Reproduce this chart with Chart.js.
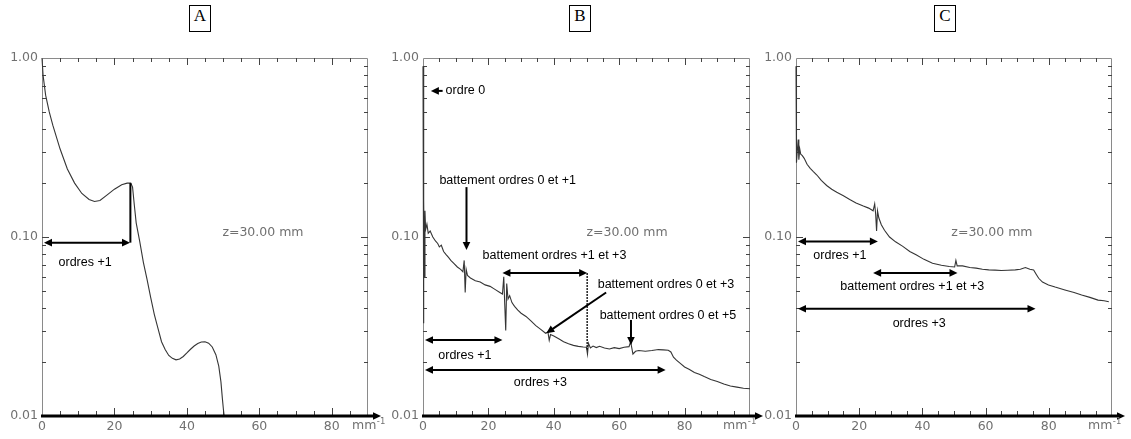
<!DOCTYPE html>
<html>
<head>
<meta charset="utf-8">
<title>Spectres z=30 mm</title>
<script src="https://cdn.jsdelivr.net/npm/chart.js@4.4.1/dist/chart.umd.min.js"></script>
<style>
    html, body { margin: 0; padding: 0; background: #fff; }
    body { position: relative; width: 1131px; height: 439px; overflow: hidden; }
    canvas { position: absolute; top: 0; }
    .tag {
        position: absolute; top: 5px; width: 20px; height: 25px;
        border: 1px solid #000; text-align: center; line-height: 26px;
        font: 17px "Liberation Serif", "Times New Roman", serif; color: #000;
    }
</style>
</head>
<body>
<div class="tag" style="left:189px">A</div>
<div class="tag" style="left:569px">B</div>
<div class="tag" style="left:934px">C</div>

<canvas id="chartA" width="385" height="439" style="left:0px"></canvas>
<canvas id="chartB" width="380" height="439" style="left:385px"></canvas>
<canvas id="chartC" width="373" height="439" style="left:758px"></canvas>

<script>
/* =========================
   DATA
========================== */
const xTickValues = [0, 20, 40, 60, 80];
const yTickValues = [0.01, 0.1, 1];
const depthLabel = "z=30.00 mm";

// panel A
const aFreq = [0, 0.3, 1, 2, 3, 5, 7, 9, 11, 13, 14.5, 16, 18, 20, 22, 23.5, 24.5, 25.0, 25.5, 26,
    27, 28, 29, 30, 31, 32, 33, 34, 35, 36, 37, 38, 39, 40, 41, 42, 43, 44, 45, 46, 47, 48,
    48.8, 49.4, 49.8, 50.1, 50.3];
const aAmp = [1.0, 0.8, 0.62, 0.5, 0.42, 0.31, 0.24, 0.2, 0.175, 0.162, 0.158, 0.16, 0.172, 0.185, 0.196, 0.2, 0.2, 0.19, 0.15, 0.12,
    0.094, 0.072, 0.058, 0.046, 0.037, 0.031, 0.026, 0.0235, 0.0218, 0.021, 0.0206, 0.0208, 0.0215, 0.0225, 0.0236, 0.0246, 0.0254, 0.0259, 0.026, 0.0255, 0.0243, 0.022,
    0.019, 0.0155, 0.0125, 0.0108, 0.0100];

// panel B
const bFreq = [0, 0.12, 0.2, 0.3, 0.45, 0.6, 0.8, 1.2, 1.6, 2.2, 3, 3.8, 4.5, 5, 5.6, 6.3, 7, 7.8, 8.5, 9.5,
    10.5, 11.5, 12.2, 12.6, 12.9, 13.2, 13.6, 14.5, 16, 17.5, 19, 20.5, 22, 23.5, 24.3, 24.7, 25.0, 25.3, 25.6, 26,
    26.5, 27.2, 28, 29, 30, 31.5, 33, 34.5, 36, 37.5, 38.2, 38.6, 39, 40, 41.5, 43, 44.5, 46, 47.5, 49,
    50, 50.3, 50.6, 51.2, 52, 53, 54, 55.5, 57, 58.5, 60, 61.5, 63, 63.5, 64.2, 65, 66, 68, 70, 72,
    73.5, 75, 75.8, 76.6, 77.5, 78.5, 80, 81.5, 83, 84.5, 86, 88, 90, 92, 94, 96, 98, 100];
const bAmp = [0.9, 0.5, 0.033, 0.16, 0.06, 0.14, 0.11, 0.118, 0.105, 0.108, 0.1, 0.095, 0.092, 0.088, 0.09, 0.083, 0.08, 0.077, 0.074, 0.071,
    0.068, 0.066, 0.064, 0.074, 0.049, 0.066, 0.061, 0.059, 0.057, 0.056, 0.054, 0.053, 0.051, 0.049, 0.048, 0.06, 0.042, 0.03, 0.055, 0.045,
    0.047, 0.043, 0.041, 0.039, 0.0375, 0.036, 0.034, 0.032, 0.0305, 0.029, 0.0295, 0.0265, 0.0285, 0.028, 0.027, 0.026, 0.0253, 0.0248, 0.0245, 0.0243,
    0.0242, 0.0222, 0.0255, 0.024, 0.0246, 0.0241, 0.0245, 0.024, 0.0237, 0.0241, 0.0238, 0.0242, 0.0244, 0.026, 0.0222, 0.023, 0.0232, 0.023, 0.0232, 0.0235,
    0.0234, 0.0233, 0.0228, 0.0213, 0.0205, 0.0198, 0.0188, 0.0182, 0.0175, 0.0171, 0.0166, 0.016, 0.0156, 0.0151, 0.0147, 0.0145, 0.0143, 0.0142];

// panel C
const cFreq = [0, 0.1, 0.2, 0.4, 0.7, 0.9, 1.2, 1.5, 2, 2.6, 3.5, 4.5, 5.5, 6.6, 8, 9.7, 11.3, 12.9, 15, 17,
    19, 21.3, 23, 24.4, 24.9, 25.2, 25.5, 25.8, 26.2, 27, 28, 29.6, 31.5, 33.8, 36, 38, 40.5, 43.2, 46, 48.5,
    50.2, 50.6, 51, 52.7, 55, 57, 59, 61, 63, 65, 67, 69.4, 71, 72.6, 74, 75.2, 76, 76.8, 78, 79.9,
    82, 85.1, 88, 90.4, 93, 95.6, 97.5, 99];
const cAmp = [0.9, 0.5, 0.26, 0.3, 0.35, 0.27, 0.31, 0.29, 0.285, 0.275, 0.255, 0.242, 0.232, 0.222, 0.207, 0.194, 0.185, 0.178, 0.17, 0.162,
    0.155, 0.149, 0.145, 0.14, 0.153, 0.135, 0.108, 0.14, 0.128, 0.117, 0.109, 0.1, 0.094, 0.0886, 0.083, 0.0795, 0.075, 0.0714, 0.0695, 0.0684,
    0.068, 0.074, 0.069, 0.069, 0.0675, 0.067, 0.066, 0.0655, 0.0653, 0.065, 0.0652, 0.0655, 0.066, 0.0675, 0.066, 0.0655, 0.062, 0.0588, 0.056, 0.054,
    0.0525, 0.0506, 0.049, 0.0474, 0.046, 0.0444, 0.044, 0.0435];

/* =========================
   ANNOTATIONS (data coords)
========================== */
const notesA = {
    arrows: [
        { from: [0, 0.093], to: [24.3, 0.093], heads: "both" }
    ],
    lines: [
        { from: [24.4, 0.2], to: [24.4, 0.093] }
    ],
    texts: [
        { at: [11.9, 0.072], text: "ordres +1" }
    ],
    depthAt: [61, 0.105],
    unitDx: -16
};

const notesB = {
    arrows: [
        { from: [6.0, 0.655], to: [2.4, 0.655], heads: "end" },
        { from: [13.3, 0.19], to: [13.3, 0.0845], heads: "end" },
        { from: [24.3, 0.063], to: [50.2, 0.063], heads: "both" },
        { from: [56, 0.049], to: [37.7, 0.029], heads: "end" },
        { from: [63.6, 0.0344], to: [63.6, 0.0249], heads: "end" },
        { from: [0, 0.0266], to: [24.3, 0.0266], heads: "both" },
        { from: [0, 0.0181], to: [74.2, 0.0181], heads: "both" }
    ],
    lines: [
        { from: [50.2, 0.063], to: [50.2, 0.0235], dash: true }
    ],
    texts: [
        { at: [6.9, 0.655], text: "ordre 0", align: "left" },
        { at: [25.9, 0.208], text: "battement ordres 0 et +1" },
        { at: [40.2, 0.079], text: "battement ordres +1 et +3" },
        { at: [74.3, 0.054], text: "battement ordres 0 et +3" },
        { at: [74.9, 0.0366], text: "battement ordres 0 et +5" },
        { at: [12.8, 0.0219], text: "ordres +1" },
        { at: [35.9, 0.0153], text: "ordres +3" }
    ],
    depthAt: [62.4, 0.105],
    unitDx: -27
};

const notesC = {
    arrows: [
        { from: [0, 0.0945], to: [25.9, 0.0945], heads: "both" },
        { from: [24.4, 0.063], to: [51.1, 0.063], heads: "both" },
        { from: [0, 0.0397], to: [75.8, 0.0397], heads: "both" }
    ],
    lines: [],
    texts: [
        { at: [13.9, 0.079], text: "ordres +1" },
        { at: [36.8, 0.0526], text: "battement ordres +1 et +3" },
        { at: [39, 0.0327], text: "ordres +3" }
    ],
    depthAt: [62, 0.105],
    unitDx: -24
};

/* =========================
   PLUGINS
========================== */
const GRAY_FONT = "12.5px 'DejaVu Sans', sans-serif";
const TEXT_FONT = "12.5px 'Liberation Sans', Arial, sans-serif";

function drawHead(ctx, tx, ty, ang) {
    const L = 8, W = 3.8;
    ctx.beginPath();
    ctx.moveTo(tx, ty);
    ctx.lineTo(tx - L * Math.cos(ang) + W * Math.sin(ang), ty - L * Math.sin(ang) - W * Math.cos(ang));
    ctx.lineTo(tx - L * Math.cos(ang) - W * Math.sin(ang), ty - L * Math.sin(ang) + W * Math.cos(ang));
    ctx.closePath();
    ctx.fill();
}

// frame + inward ticks, drawn under the curve
const frameTicks = {
    id: "frameTicks",
    beforeDatasetsDraw(chart) {
        const { ctx, chartArea: a, scales: { x, y } } = chart;
        ctx.save();

        ctx.strokeStyle = "#8a8a8a";
        ctx.lineWidth = 1;
        ctx.beginPath();
        ctx.moveTo(a.left + 0.5, a.bottom);
        ctx.lineTo(a.left + 0.5, a.top + 0.5);
        ctx.lineTo(a.right - 0.5, a.top + 0.5);
        ctx.lineTo(a.right - 0.5, a.bottom);
        ctx.stroke();

        ctx.strokeStyle = "#444";
        ctx.beginPath();
        for (let v = 5; v < x.max; v += 5) {
            const px = Math.round(x.getPixelForValue(v)) + 0.5;
            const len = v % 20 === 0 ? 7 : 4;
            ctx.moveTo(px, a.top);
            ctx.lineTo(px, a.top + len);
            ctx.moveTo(px, a.bottom);
            ctx.lineTo(px, a.bottom - len - 1);
        }
        [0.01, 0.1].forEach(d => {
            for (let m = 1; m <= 9; m++) {
                const py = Math.round(y.getPixelForValue(d * m)) + 0.5;
                const len = m === 1 ? 7 : 4;
                ctx.moveTo(a.left, py);
                ctx.lineTo(a.left + len, py);
                ctx.moveTo(a.right, py);
                ctx.lineTo(a.right - len, py);
            }
        });
        ctx.stroke();
        ctx.restore();
    },
    afterDatasetsDraw(chart) {
        const { ctx, chartArea: a } = chart;
        ctx.save();
        ctx.strokeStyle = "#000";
        ctx.fillStyle = "#000";
        ctx.lineWidth = 3;
        ctx.beginPath();
        ctx.moveTo(a.left - 1, a.bottom);
        ctx.lineTo(a.right + 6, a.bottom);
        ctx.stroke();
        drawHead(ctx, a.right + 13, a.bottom, 0);
        ctx.restore();
    }
};

const notes = {
    id: "notes",
    afterDraw(chart, args, opts) {
        const { ctx, chartArea: a, scales: { x, y } } = chart;
        const P = p => [x.getPixelForValue(p[0]), y.getPixelForValue(p[1])];
        ctx.save();
        ctx.strokeStyle = "#000";
        ctx.fillStyle = "#000";
        ctx.lineWidth = 2;

        (opts.lines || []).forEach(l => {
            const [x1, y1] = P(l.from), [x2, y2] = P(l.to);
            ctx.save();
            if (l.dash) { ctx.lineWidth = 1.3; ctx.setLineDash([2, 1]); }
            ctx.beginPath();
            ctx.moveTo(x1, y1);
            ctx.lineTo(x2, y2);
            ctx.stroke();
            ctx.restore();
        });

        (opts.arrows || []).forEach(ar => {
            let [x1, y1] = P(ar.from), [x2, y2] = P(ar.to);
            if (ar.from[0] === 0) x1 += 2;
            const ang = Math.atan2(y2 - y1, x2 - x1);
            const c = Math.cos(ang) * 6, s = Math.sin(ang) * 6;
            const both = ar.heads === "both";
            ctx.beginPath();
            ctx.moveTo(both ? x1 + c : x1, both ? y1 + s : y1);
            ctx.lineTo(x2 - c, y2 - s);
            ctx.stroke();
            drawHead(ctx, x2, y2, ang);
            if (both) drawHead(ctx, x1, y1, ang + Math.PI);
        });

        ctx.textBaseline = "middle";
        ctx.font = TEXT_FONT;
        (opts.texts || []).forEach(t => {
            const [tx, ty] = P(t.at);
            ctx.textAlign = t.align || "center";
            ctx.fillText(t.text, tx, ty);
        });

        // depth label
        ctx.font = GRAY_FONT;
        ctx.fillStyle = "#707070";
        ctx.textAlign = "center";
        const [dx, dy] = P(opts.depthAt);
        ctx.fillText(depthLabel, dx, dy);

        // unit mm^-1
        const ux = a.right + opts.unitDx;
        ctx.textAlign = "left";
        ctx.fillText("mm", ux, a.bottom + 10);
        const w = ctx.measureText("mm").width;
        ctx.font = "8.5px 'DejaVu Sans', sans-serif";
        ctx.fillText("-1", ux + w + 0.5, a.bottom + 5.5);

        ctx.restore();
    }
};

/* =========================
   CHART SETUP
========================== */
function makePanel(id, freq, amp, xMax, yWidth, rightPad, panelNotes) {
    const ctx = document.getElementById(id).getContext("2d");
    return new Chart(ctx, {
        type: "line",
        data: {
            datasets: [{
                data: freq.map((f, i) => ({ x: f, y: amp[i] })),
                borderColor: "#353535",
                borderWidth: 1.1,
                pointRadius: 0,
                fill: false,
                tension: 0,
                clip: 3
            }]
        },
        options: {
            responsive: false,
            animation: false,
            layout: { padding: { top: 58, right: rightPad, left: 0, bottom: 0 } },
            plugins: {
                legend: { display: false },
                tooltip: { enabled: false },
                notes: panelNotes
            },
            scales: {
                x: {
                    type: "linear",
                    min: 0,
                    max: xMax,
                    grid: { display: false, drawTicks: false },
                    border: { display: false },
                    afterBuildTicks: s => { s.ticks = xTickValues.map(v => ({ value: v })); },
                    afterFit: s => { s.height = 23; },
                    ticks: {
                        autoSkip: false,
                        maxRotation: 0,
                        padding: 3,
                        color: "#707070",
                        font: { family: "'DejaVu Sans'", size: 12.5 }
                    }
                },
                y: {
                    type: "logarithmic",
                    min: 0.01,
                    max: 1,
                    grid: { display: false, drawTicks: false },
                    border: { display: false },
                    afterBuildTicks: s => { s.ticks = yTickValues.map(v => ({ value: v })); },
                    afterFit: s => { s.width = yWidth; },
                    ticks: {
                        padding: 4,
                        color: "#707070",
                        font: { family: "'DejaVu Sans'", size: 12.5 },
                        callback: v => Number(v).toFixed(2)
                    }
                }
            }
        },
        plugins: [frameTicks, notes]
    });
}

document.addEventListener("DOMContentLoaded", () => {
    makePanel("chartA", aFreq, aAmp, 90, 42, 17, notesA);
    makePanel("chartB", bFreq, bAmp, 100, 38, 15, notesB);
    makePanel("chartC", cFreq, cAmp, 100, 38, 19, notesC);
});
</script>
</body>
</html>
